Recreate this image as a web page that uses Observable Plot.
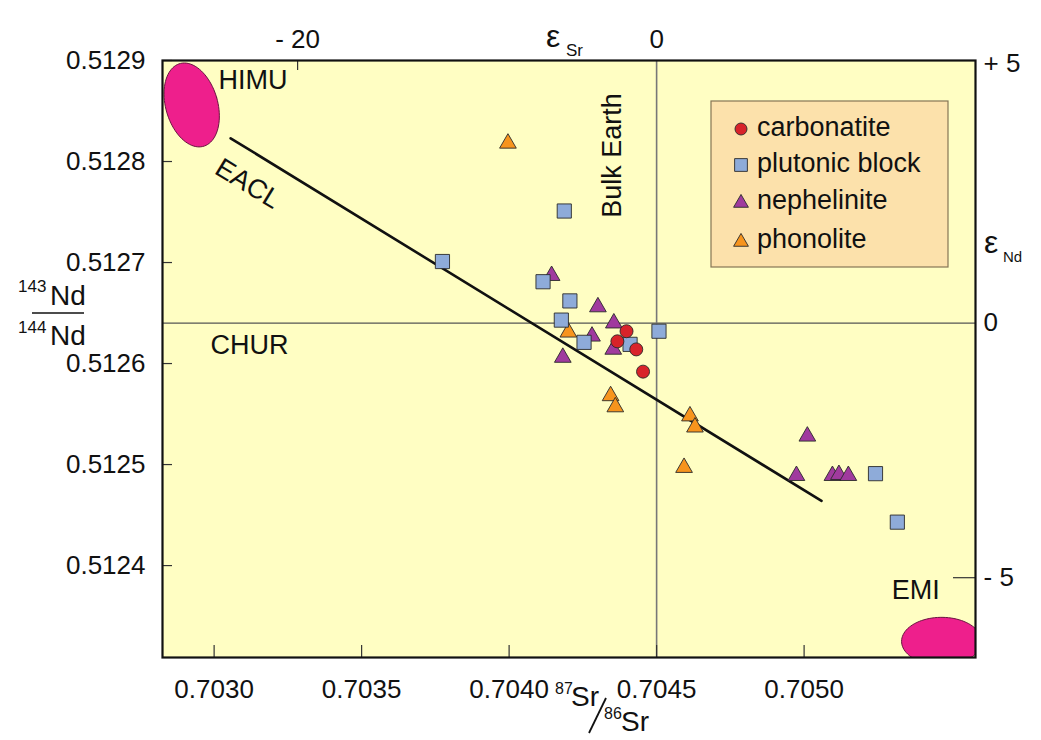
<!DOCTYPE html>
<html><head><meta charset="utf-8">
<script src="https://cdn.jsdelivr.net/npm/d3@7"></script>
<script src="https://cdn.jsdelivr.net/npm/@observablehq/plot@0.6"></script>
<style>body{margin:0;background:#fff;} #chart{width:1041px;height:740px;}</style>
</head><body><div id="chart"></div>
<script>
// ---- data (87Sr/86Sr, 143Nd/144Nd) ----
const carbonatite = [[0.704398,0.512632],[0.704367,0.512622],[0.704431,0.512614],[0.704454,0.512592]];
const plutonic = [[0.703774,0.512701],[0.704187,0.512751],[0.704115,0.512681],[0.704206,0.512662],[0.704177,0.512643],
  [0.704254,0.512621],[0.704410,0.512619],[0.704508,0.512632],[0.705242,0.512491],[0.705316,0.512443]];
const nephelinite = [[0.704144,0.512687],[0.704301,0.512656],[0.704355,0.512640],[0.704281,0.512627],[0.704353,0.512614],
  [0.704182,0.512606],[0.705011,0.512528],[0.704974,0.512489],[0.705096,0.512489],[0.705118,0.512490],[0.705150,0.512489]];
const phonolite = [[0.703996,0.512818],[0.704201,0.512631],[0.704344,0.512568],[0.704360,0.512557],
  [0.704613,0.512548],[0.704630,0.512537],[0.704593,0.512497]];
const eaclLine = [[0.703056,0.512823],[0.705059,0.512464]];
const bulkEarthSr = 0.7045;
const churNd = 0.51264;
const xTicks = [0.7030,0.7035,0.7040,0.7045,0.7050];
const yTicks = [0.5124,0.5125,0.5126,0.5127,0.5128,0.5129];
const epsSrTicks = [0.703283, 0.7045];
const epsSrLabels = ["- 20", "0"];
const epsNdTicks = [0.512897, 0.51264, 0.512388];
const epsNdLabels = ["+ 5", "0", "- 5"];
// mantle end-members: centre (data), radii in px, tilt in degrees
const endMembers = [
  {name:"HIMU", cx:0.702924, cy:0.512856, rx:26, ry:43, tilt:16},
  {name:"EMI",  cx:0.705466, cy:0.512325, rx:40, ry:24, tilt:0}
];
const startLabels = [
  {text:"HIMU", x:0.703015, y:0.51288},
  {text:"CHUR", x:0.702988, y:0.512618},
  {text:"EMI", x:0.705297, y:0.512375}
];
const rotatedLabels = [
  {text:"Bulk Earth", x:0.704351, y:0.512806, rotate:-90},
  {text:"EACL", x:0.703114, y:0.512778, rotate:31.5}
];
const legendLabels = ["carbonatite","plutonic block","nephelinite","phonolite"];
const legendColors = ["#d8232a","#8eabd9","#a03a9e","#f7941d"];
const legendSymbols = ["circle","square","triangle","triangle"];

// ---- layout ----
const W=1041, H=740, mL=162, mR=66, mT=60, mB=83;
const xDomain=[0.702825,0.705581], yDomain=[0.512309,0.5129];
const kx=(xDomain[1]-xDomain[0])/(W-mL-mR), ky=(yDomain[1]-yDomain[0])/(H-mT-mB);
function ellipse(e){
  const pts=[], f=e.tilt*Math.PI/180;
  for(let i=0;i<=90;i++){
    const t=i/90*2*Math.PI;
    const px=e.rx*Math.cos(t)*Math.cos(f)-e.ry*Math.sin(t)*Math.sin(f);
    const py=e.rx*Math.cos(t)*Math.sin(f)+e.ry*Math.sin(t)*Math.cos(f);
    pts.push({x:e.cx+px*kx, y:e.cy+py*ky});
  }
  return pts;
}
const toObj = a => a.map(([x,y])=>({x,y}));
const font = "Liberation Sans, Arial, Helvetica, sans-serif";
const ptStroke = "#2a2a2a";

const plot = Plot.plot({
  width:W, height:H, marginLeft:mL, marginRight:mR, marginTop:mT, marginBottom:mB,
  style:{fontFamily:font, fontSize:"26px", color:"#111", background:"transparent"},
  x:{domain:xDomain}, y:{domain:yDomain},
  marks:[
    Plot.frame({fill:"#fffec3", stroke:null}),
    ...endMembers.map(e=>Plot.line(ellipse(e),{x:"x",y:"y",fill:"#ee1f8c",stroke:"#6a1440",strokeWidth:1,clip:true})),
    Plot.ruleY([churNd],{stroke:"#555",strokeWidth:1.3}),
    Plot.ruleX([bulkEarthSr],{stroke:"#777",strokeWidth:1.6}),
    Plot.line(toObj(eaclLine),{x:"x",y:"y",stroke:"#111",strokeWidth:2.6}),
    Plot.tickX(xTicks,{x:d=>d, insetTop:(H-mT-mB)-12, stroke:"#333", strokeWidth:1.2}),
    Plot.tickX([epsSrTicks[0]],{x:d=>d, insetBottom:(H-mT-mB)-10, stroke:"#333", strokeWidth:1.2}),
    Plot.tickY(yTicks,{y:d=>d, insetRight:(W-mL-mR)-10, stroke:"#333", strokeWidth:1.2}),
    Plot.tickY([epsNdTicks[2]],{y:d=>d, insetLeft:(W-mL-mR)-22, stroke:"#333", strokeWidth:1.2}),
    Plot.axisX({ticks:xTicks, tickFormat:d3.format(".4f"), tickSize:0, tickPadding:22, label:null, fontSize:26}),
    Plot.axisY({ticks:yTicks, tickFormat:d3.format(".4f"), tickSize:0, tickPadding:17, label:null, fontSize:26}),
    Plot.axisX({anchor:"top", ticks:epsSrTicks, tickFormat:(d,i)=>epsSrLabels[i], tickSize:0, tickPadding:13, label:null, fontSize:26}),
    Plot.axisY({anchor:"right", ticks:epsNdTicks, tickFormat:(d,i)=>epsNdLabels[i], tickSize:0, tickPadding:8, textAnchor:"start", label:null, fontSize:26}),
    Plot.text(startLabels,{x:"x",y:"y",text:"text",textAnchor:"start",fontSize:27,fill:"#111"}),
    Plot.text(rotatedLabels,{x:"x",y:"y",text:"text",rotate:"rotate",textAnchor:"middle",fontSize:27,fill:"#111"}),
    Plot.dot(toObj(phonolite),{x:"x",y:"y",symbol:"triangle",r:6.2,fill:legendColors[3],stroke:ptStroke,strokeWidth:0.9}),
    Plot.dot(toObj(nephelinite),{x:"x",y:"y",symbol:"triangle",r:6.2,fill:legendColors[2],stroke:ptStroke,strokeWidth:0.9}),
    Plot.dot(toObj(plutonic),{x:"x",y:"y",symbol:"square",r:8,fill:legendColors[1],stroke:ptStroke,strokeWidth:0.9}),
    Plot.dot(toObj(carbonatite),{x:"x",y:"y",symbol:"circle",r:6.5,fill:legendColors[0],stroke:ptStroke,strokeWidth:0.9}),
    Plot.frame({stroke:"#111", strokeWidth:2.2})
  ]
});
document.getElementById("chart").appendChild(plot);

// ---- legend & axis titles ----
const svg = d3.select(plot);
const lg = svg.append("g").attr("font-family",font).attr("text-anchor","start");
lg.append("rect").attr("x",711).attr("y",101).attr("width",237).attr("height",166)
  .attr("fill","#fce1ab").attr("stroke","#857556").attr("stroke-width",1.2);
const rowY=[127,163,200,239];
legendLabels.forEach((lab,i)=>{
  const sym = {circle:d3.symbolCircle, square:d3.symbolSquare, triangle:d3.symbolTriangle}[legendSymbols[i]];
  const r = legendSymbols[i]==="square"?7.2:(legendSymbols[i]==="circle"?6:5.5);
  lg.append("path").attr("d",d3.symbol(sym, r*r*Math.PI)())
    .attr("transform",`translate(741,${rowY[i]+(legendSymbols[i]==="triangle"?3:2)})`)
    .attr("fill",legendColors[i]).attr("stroke",ptStroke).attr("stroke-width",0.9);
  lg.append("text").attr("x",757).attr("y",rowY[i]).attr("dy","0.35em")
    .attr("font-size",27).attr("fill","#111").text(lab);
});
const t = svg.append("g").attr("font-family",font).attr("fill","#111").attr("text-anchor","start");
// bottom: 87Sr/86Sr
t.append("text").attr("x",555).attr("y",694).attr("font-size",16).text("87");
t.append("text").attr("x",571).attr("y",706).attr("font-size",28).text("Sr");
t.append("line").attr("x1",589).attr("y1",733).attr("x2",606).attr("y2",698).attr("stroke","#111").attr("stroke-width",1.8);
t.append("text").attr("x",604).attr("y",719).attr("font-size",16).text("86");
t.append("text").attr("x",621).attr("y",731).attr("font-size",28).text("Sr");
// left: 143Nd / 144Nd
t.append("text").attr("x",18).attr("y",292).attr("font-size",17).text("143");
t.append("text").attr("x",50).attr("y",305).attr("font-size",28).text("Nd");
t.append("line").attr("x1",32).attr("y1",313).attr("x2",84).attr("y2",313).attr("stroke","#111").attr("stroke-width",1.5);
t.append("text").attr("x",18).attr("y",333).attr("font-size",17).text("144");
t.append("text").attr("x",50).attr("y",345).attr("font-size",28).text("Nd");
// top: eps Sr
t.append("text").attr("x",546).attr("y",47).attr("font-size",32).text("ε");
t.append("text").attr("x",566).attr("y",56).attr("font-size",17).text("Sr");
// right: eps Nd
t.append("text").attr("x",984).attr("y",253).attr("font-size",32).text("ε");
t.append("text").attr("x",1003).attr("y",262).attr("font-size",15).text("Nd");
</script></body></html>
